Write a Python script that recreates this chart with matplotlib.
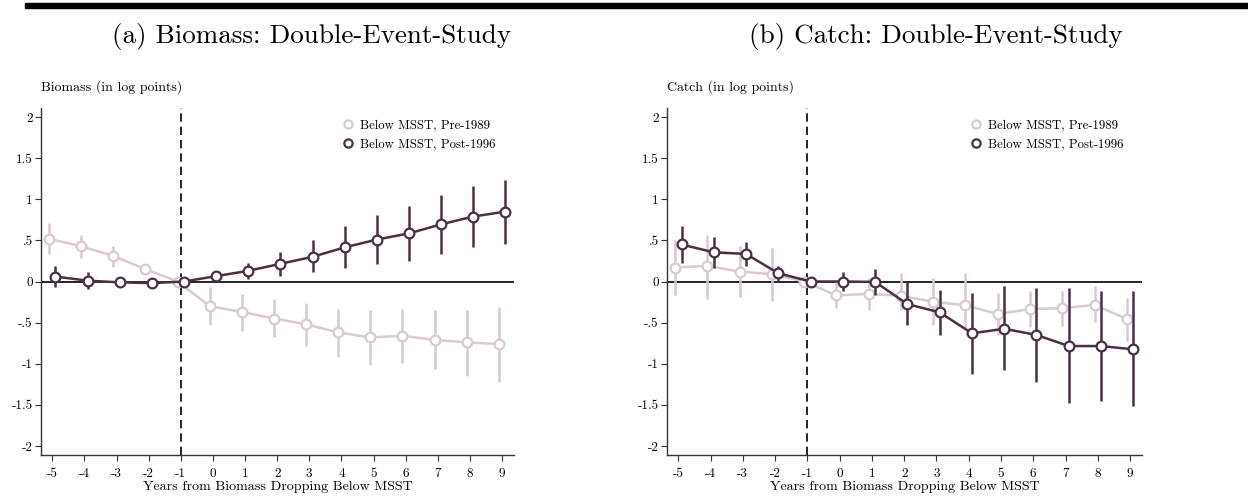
import matplotlib
matplotlib.use("Agg")
import matplotlib.pyplot as plt
from matplotlib.patches import Rectangle
import numpy as np

plt.rcParams['font.family'] = ['cmr10', 'DejaVu Serif']
plt.rcParams['axes.unicode_minus'] = False
plt.rcParams['mathtext.fontset'] = 'cm'

years = np.arange(-5, 10)
xticks = list(range(-5, 10))
ytick_vals = [-2, -1.5, -1, -0.5, 0, 0.5, 1, 1.5, 2]
ytick_labels = ['-2', '-1.5', '-1', '-.5', '0', '.5', '1', '1.5', '2']

# biomass, pre-1989
bio_pre = [0.52, 0.43, 0.31, 0.15, 0.0, -0.30, -0.37, -0.45, -0.52, -0.62, -0.68, -0.66, -0.71, -0.74, -0.76]
bio_pre_lo = [0.34, 0.28, 0.18, 0.10, 0.0, -0.53, -0.60, -0.68, -0.78, -0.92, -1.01, -0.99, -1.07, -1.15, -1.22]
bio_pre_hi = [0.71, 0.57, 0.43, 0.20, 0.0, -0.07, -0.15, -0.21, -0.26, -0.33, -0.35, -0.33, -0.35, -0.35, -0.31]
# biomass, post-1996
bio_post = [0.06, 0.01, -0.01, -0.02, 0.0, 0.065, 0.13, 0.215, 0.30, 0.415, 0.51, 0.585, 0.695, 0.79, 0.85]
bio_post_lo = [-0.07, -0.09, -0.03, -0.04, 0.0, 0.025, 0.03, 0.065, 0.11, 0.16, 0.21, 0.25, 0.33, 0.415, 0.455]
bio_post_hi = [0.19, 0.11, 0.01, 0.0, 0.0, 0.105, 0.23, 0.36, 0.50, 0.67, 0.81, 0.92, 1.05, 1.16, 1.24]

# catch, pre-1989
cat_pre = [0.17, 0.19, 0.12, 0.09, 0.0, -0.17, -0.15, -0.175, -0.245, -0.29, -0.395, -0.335, -0.325, -0.285, -0.455]
cat_pre_lo = [-0.17, -0.21, -0.19, -0.24, 0.0, -0.325, -0.35, -0.345, -0.53, -0.57, -0.65, -0.55, -0.54, -0.49, -0.72]
cat_pre_hi = [0.51, 0.57, 0.43, 0.41, 0.0, 0.02, 0.04, 0.10, 0.04, 0.10, -0.14, -0.11, -0.11, -0.06, -0.195]
# catch, post-1996
cat_post = [0.45, 0.355, 0.335, 0.10, 0.0, 0.0, -0.005, -0.275, -0.375, -0.63, -0.575, -0.65, -0.785, -0.785, -0.825]
cat_post_lo = [0.23, 0.17, 0.19, -0.01, 0.0, -0.115, -0.165, -0.53, -0.65, -1.12, -1.08, -1.22, -1.48, -1.45, -1.52]
cat_post_hi = [0.67, 0.54, 0.48, 0.19, 0.0, 0.115, 0.15, -0.01, -0.10, -0.14, -0.06, -0.08, -0.08, -0.11, -0.12]

light = '#d9c9d3'
dark = '#4b3045'

fig = plt.figure(figsize=(12.48, 4.98), dpi=100)
fig.patches.append(Rectangle((25 / 1248, 1 - 8.5 / 498), 1 - 25 / 1248, 5.5 / 498,
                             transform=fig.transFigure, color='black', zorder=5))


def panel(rect, title, title_x, ylab, pre, pre_lo, pre_hi, post, post_lo, post_hi):
    ax = fig.add_axes(rect)
    xp = years - 0.1
    xq = years + 0.1
    ax.vlines(xp, pre_lo, pre_hi, color=light, lw=1.8, zorder=2)
    ax.plot(xp, pre, '-o', color=light, lw=1.8, ms=7, mfc='white', mec=light, mew=1.6,
            zorder=3, label='Below MSST, Pre-1989')
    ax.vlines(xq, post_lo, post_hi, color=dark, lw=1.8, zorder=4)
    ax.plot(xq, post, '-o', color=dark, lw=1.8, ms=7, mfc='white', mec=dark, mew=1.6,
            zorder=5, label='Below MSST, Post-1996')
    ax.axhline(0, color='black', lw=1.2, zorder=1)
    ax.axvline(-1, color='black', lw=1.2, ls=(0, (5, 3)), zorder=1)
    ax.set_xlim(-5.35, 9.37)
    ax.set_ylim(-2.11, 2.11)
    ax.set_xticks(xticks)
    ax.set_xticklabels([str(v) for v in xticks], fontsize=9.5)
    ax.set_yticks(ytick_vals)
    ax.set_yticklabels(ytick_labels, fontsize=9.5)
    ax.tick_params(length=4, width=0.8, color='#333333', pad=2)
    ax.tick_params(axis='x', pad=5)
    for s in ['top', 'right']:
        ax.spines[s].set_visible(False)
    for s in ['left', 'bottom']:
        ax.spines[s].set_color('#333333')
        ax.spines[s].set_linewidth(1.0)
    ax.set_xlabel('Years from Biomass Dropping Below MSST', fontsize=10.1, labelpad=1)
    ax.text(0.0, 1.04, ylab, transform=ax.transAxes, fontsize=10, ha='left', va='bottom')
    leg = ax.legend(loc='upper right', bbox_to_anchor=(0.985, 1.0), frameon=False, fontsize=9.2,
                    handlelength=0.6, handletextpad=0.6, labelspacing=0.5, markerscale=0.85)
    for h in leg.legend_handles:
        h.set_linestyle('None')
    fig.text(title_x / 1248, 1 - 37 / 498, title, fontsize=19.5, ha='center', va='center')
    return ax


panel([41 / 1248, 43 / 498, 473 / 1248, 347 / 498], '(a) Biomass: Double-Event-Study', 312,
      'Biomass (in log points)', bio_pre, bio_pre_lo, bio_pre_hi, bio_post, bio_post_lo, bio_post_hi)
panel([667 / 1248, 43 / 498, 475 / 1248, 347 / 498], '(b) Catch: Double-Event-Study', 936,
      'Catch (in log points)', cat_pre, cat_pre_lo, cat_pre_hi, cat_post, cat_post_lo, cat_post_hi)

fig.savefig('out.png', dpi=100)
